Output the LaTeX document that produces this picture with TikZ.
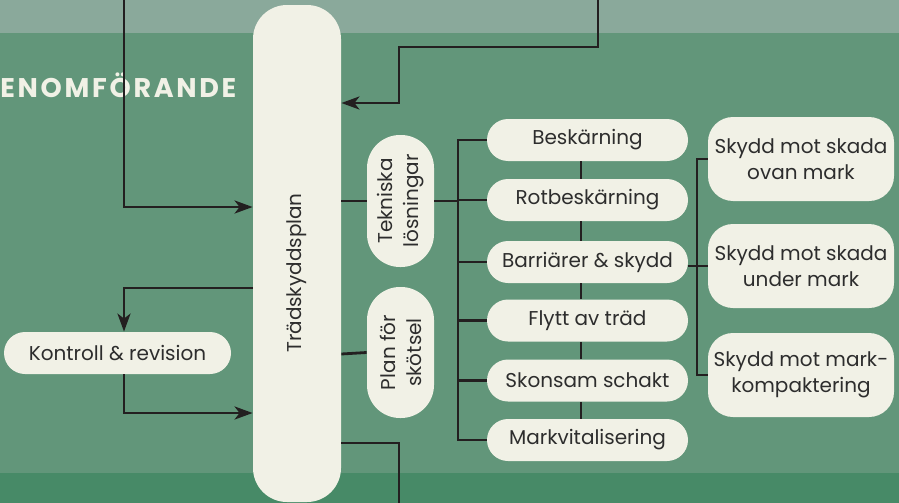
\documentclass[tikz,border=0pt]{standalone}
\usepackage{fontspec}
\setmainfont{Poppins}
\usetikzlibrary{arrows.meta}
\definecolor{topband}{HTML}{8AA99B}
\definecolor{midband}{HTML}{62967A}
\definecolor{lowband}{HTML}{478A67}
\definecolor{cream}{HTML}{F1F1E6}
\definecolor{ink}{HTML}{231F20}
\definecolor{txt}{HTML}{2D2D2D}

\begin{document}
\begin{tikzpicture}[x=0.5pt,y=-0.5pt,
                    conn/.style={draw=ink,line width=1.4pt},
                    arr/.style={conn,-{Stealth[length=9pt,width=6.5pt,inset=2.5pt]}},
                    box/.style={rectangle,rounded corners=10.5pt,fill=cream,text=txt,inner sep=0pt,
                                font=\fontsize{10}{13}\selectfont,align=center},
                    mid box/.style={box,minimum width=100.5pt,minimum height=21pt},
                    side box/.style={box,rounded corners=12.5pt,minimum width=93pt,minimum height=42pt},
                    tall box/.style={box,rotate=90,rounded corners=16.5pt,minimum width=66pt,minimum height=33.5pt}
                   ]
  \useasboundingbox (0,0) rectangle (899,503);
  % background
  \fill[topband] (0,0) rectangle (899,33);
  \fill[midband] (0,33) rectangle (899,473);
  \fill[lowband] (0,473) rectangle (899,503);

  \node[anchor=base west,inner sep=0pt,text=cream,
        font=\fontsize{13.5}{13.5}\selectfont\bfseries\addfontfeatures{LetterSpace=10}] (rubrik) at (0,97) {ENOMFÖRANDE};

  % main column
  \node[box,minimum width=44pt,minimum height=248.5pt,rounded corners=17pt] (plan) at (297,253.5) {};
  \node[rotate=90,text=txt,inner sep=0pt,font=\fontsize{10}{13}\selectfont] (plantext) at (297,273) {Trädskyddsplan};
  \node[box,minimum width=113.5pt,minimum height=21pt] (kontroll) at (117.5,353) {Kontroll \& revision};
  \node[tall box] (tekn) at (400.5,201) {Tekniska\\lösningar};
  \node[tall box,minimum width=65.5pt] (skotsel) at (400.5,352.5) {Plan för\\skötsel};

  % technical solutions
  \node[mid box] (besk) at (587.5,140) {Beskärning};
  \node[mid box] (rotb) at (587.5,200) {Rotbeskärning};
  \node[mid box] (barr) at (587.5,262) {Barriärer \& skydd};
  \node[mid box] (flytt) at (587.5,320.5) {Flytt av träd};
  \node[mid box] (skon) at (587.5,380.5) {Skonsam schakt};
  \node[mid box] (markv) at (587.5,440) {Markvitalisering};

  \node[side box] (skyddA) at (801,159) {Skydd mot skada\\ovan mark};
  \node[side box] (skyddB) at (801,266) {Skydd mot skada\\under mark};
  \node[side box] (skyddC) at (801,375) {Skydd mot mark-\\kompaktering};

  \coordinate (inA) at (124,0);
  \coordinate (inB) at (598,0);
  \coordinate (bendB) at (399,47);
  \coordinate (outC) at (399,503);
  \coordinate (busL) at (458,0);
  \coordinate (busR) at (697,0);

  % in and out of the plan
  \draw[arr] (inA) |- (plan.west |- 0,207);
  \draw[arr] (inB) |- (bendB) |- (plan.east |- 0,103);
  \draw[arr] (plan.west |- 0,288) -| (inA |- kontroll.north);
  \draw[arr] (inA |- kontroll.south) |- (plan.west |- 0,413);
  \draw[conn] (plan.east |- 0,443) -| (outC);
  \path (plan.east |- tekn) edge[conn] (tekn.north)
        (plan.east |- 0,354) edge[conn] (skotsel.north);

  % tree of solutions
  \draw[conn] (tekn.south) -- (busL |- tekn.south);
  \draw[conn] (besk.west) -- (busL |- besk.west) -- (busL |- markv.west) -- (markv.west);
  \foreach \n in {rotb,barr,flytt,skon}
    \draw[conn] (busL |- \n.west) -- (\n.west);
  \foreach \a/\b in {besk/rotb,rotb/barr,barr/flytt,flytt/skon,skon/markv}
    \draw[conn] ([xshift=-3.25pt]\a.south) -- ([xshift=-3.25pt]\b.north);

  \draw[conn] (skyddA.west) -- (busR |- skyddA.west) -- (busR |- skyddC.west) -- (skyddC.west);
  \path (barr.east |- skyddB.west) edge[conn] (skyddB.west);
\end{tikzpicture}
\end{document}
